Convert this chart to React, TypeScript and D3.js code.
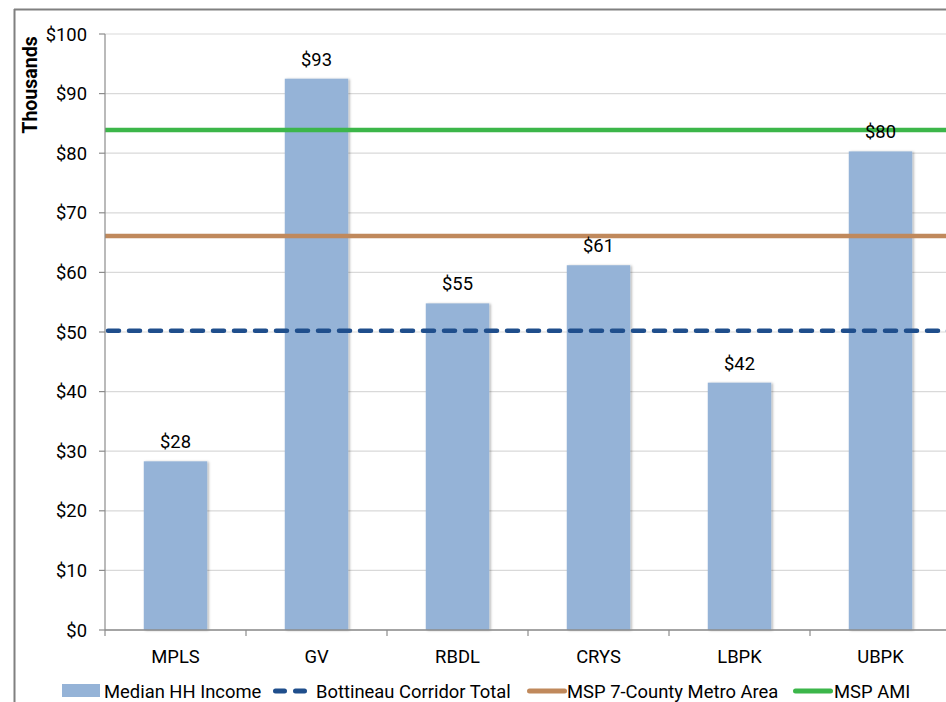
import React from "react";
import * as d3 from "d3";

// Median household income by area, in thousands of dollars
const categories = ["MPLS", "GV", "RBDL", "CRYS", "LBPK", "UBPK"];
const medianIncome = [28.3, 92.5, 54.8, 61.2, 41.5, 80.3];

// Reference levels drawn as horizontal lines across the plot
const corridorTotal = 50.2;
const metroArea = 66.1;
const mspAmi = 83.9;

const yTicks = [0, 10, 20, 30, 40, 50, 60, 70, 80, 90, 100];

const legendItems = [
  { label: "Median HH Income", kind: "bar" },
  { label: "Bottineau Corridor Total", kind: "dash" },
  { label: "MSP 7-County Metro Area", kind: "metro" },
  { label: "MSP AMI", kind: "ami" },
];

const W = 946;
const H = 702;
const M = { left: 105, top: 34, right: -5, bottom: 72 };

const BAR = "#95B3D7";
const DASH = "#1F4E8C";
const METRO = "#C0895C";
const AMI = "#3CB64A";
const FONT = "Roboto, 'Noto Sans', sans-serif";
const FS = 18.4;

export default function App() {
  const x = d3
    .scaleBand<string>()
    .domain(categories)
    .range([M.left, W - M.right])
    .paddingInner(0.55)
    .paddingOuter(0.275);
  const step = x.step();
  const y = d3.scaleLinear().domain([0, 100]).range([H - M.bottom, M.top]);
  const x0 = M.left;
  const x1 = W - M.right;
  const fmt = (v: number) => `$${d3.format(".0f")(v)}`;

  // legend: symbol start and text start for each entry
  const legendSym = [62, 273, 527, 793];
  const legendText = [104, 316, 567, 834];
  const cy = 691;

  return (
    <svg
      width={W}
      height={H}
      style={{ position: "absolute", left: 0, top: 0, background: "#fff" }}
      fontFamily={FONT}
    >
      <defs>
        <filter id="barShadow" x="-10%" y="-5%" width="130%" height="115%">
          <feDropShadow dx="1.5" dy="0.5" stdDeviation="1" floodColor="#000" floodOpacity="0.3" />
        </filter>
      </defs>

      {/* chart frame */}
      <line x1={14} x2={W} y1={9.5} y2={9.5} stroke="#808080" strokeWidth={2} />
      <line x1={14.5} x2={14.5} y1={9} y2={H} stroke="#808080" strokeWidth={2} />

      {/* gridlines */}
      {yTicks.map((t) => (
        <line key={t} x1={x0} x2={x1} y1={y(t)} y2={y(t)} stroke="#D9D9D9" strokeWidth={1.2} />
      ))}

      {/* bars */}
      {categories.map((c, i) => (
        <rect
          key={c}
          x={x(c)}
          y={y(medianIncome[i])}
          width={x.bandwidth()}
          height={y(0) - y(medianIncome[i])}
          fill={BAR}
          filter="url(#barShadow)"
        />
      ))}

      {/* reference lines */}
      <line x1={x0 + 3} x2={x1} y1={y(corridorTotal)} y2={y(corridorTotal)} stroke={DASH} strokeWidth={4.5} strokeDasharray="11 10" strokeLinecap="round" />
      <line x1={x0} x2={x1} y1={y(metroArea)} y2={y(metroArea)} stroke={METRO} strokeWidth={4.5} />
      <line x1={x0} x2={x1} y1={y(mspAmi)} y2={y(mspAmi)} stroke={AMI} strokeWidth={4.5} />

      {/* value labels */}
      {categories.map((c, i) => (
        <text
          key={c}
          x={(x(c) as number) + x.bandwidth() / 2}
          y={y(medianIncome[i]) - 13}
          textAnchor="middle"
          fontSize={FS}
          fill="#000"
        >
          {fmt(medianIncome[i])}
        </text>
      ))}

      {/* y axis */}
      <line x1={x0} x2={x0} y1={y(100)} y2={y(0)} stroke="#8C8C8C" strokeWidth={1.2} />
      {yTicks.map((t) => (
        <g key={t}>
          <line x1={x0 - 6} x2={x0} y1={y(t)} y2={y(t)} stroke="#8C8C8C" strokeWidth={1.2} />
          <text x={x0 - 18} y={y(t)} dy="0.36em" textAnchor="end" fontSize={FS} fill="#000">
            {fmt(t)}
          </text>
        </g>
      ))}
      <text
        transform={`translate(37, ${y(100) + 51}) rotate(-90)`}
        textAnchor="middle"
        fontSize={19.5}
        fontWeight="bold"
        fill="#000"
      >
        Thousands
      </text>

      {/* x axis */}
      <line x1={x0} x2={x1} y1={y(0)} y2={y(0)} stroke="#8C8C8C" strokeWidth={1.5} />
      {d3.range(categories.length + 1).map((k) => (
        <line key={k} x1={x0 + k * step} x2={x0 + k * step} y1={y(0)} y2={y(0) + 6} stroke="#8C8C8C" strokeWidth={1.2} />
      ))}
      {categories.map((c) => (
        <text key={c} x={(x(c) as number) + x.bandwidth() / 2} y={y(0) + 33} textAnchor="middle" fontSize={FS} fill="#000">
          {c}
        </text>
      ))}

      {/* legend */}
      {legendItems.map((item, i) => {
        const lx = legendSym[i];
        let sym;
        if (item.kind === "bar") {
          sym = <rect x={lx} y={cy - 7} width={38} height={13} fill={BAR} />;
        } else if (item.kind === "dash") {
          sym = <line x1={lx + 2.5} x2={lx + 32.5} y1={cy} y2={cy} stroke={DASH} strokeWidth={5} strokeDasharray="9 11" strokeLinecap="round" />;
        } else {
          sym = <line x1={lx + 2.5} x2={lx + 37.5} y1={cy} y2={cy} stroke={item.kind === "metro" ? METRO : AMI} strokeWidth={5} strokeLinecap="round" />;
        }
        return (
          <g key={item.label}>
            {sym}
            <text x={legendText[i]} y={cy} dy="0.38em" fontSize={FS} fill="#000">
              {item.label}
            </text>
          </g>
        );
      })}
    </svg>
  );
}
